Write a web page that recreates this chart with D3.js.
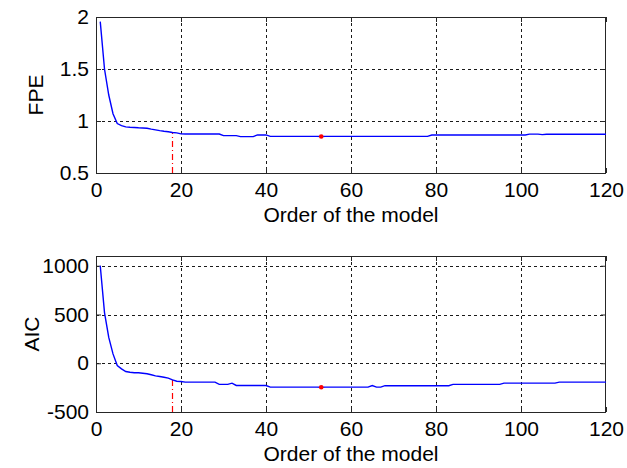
<!DOCTYPE html>
<html>
<head>
<meta charset="utf-8">
<script src="https://cdn.jsdelivr.net/npm/d3@7"></script>
<style>
  html, body { margin: 0; padding: 0; background: #fff; }
  svg { display: block; }
  text { font-family: "Liberation Sans", Arial, Helvetica, sans-serif; fill: #000; }
</style>
</head>
<body>
<svg id="chart" width="627" height="468"></svg>
<script>
// Model order (x) shared by both criteria
const orders = d3.range(1, 121);

// Final prediction error for each model order
const fpe = [
  1.955, 1.50, 1.25, 1.07, 0.975, 0.955, 0.944, 0.940, 0.938, 0.935,
  0.933, 0.930, 0.922, 0.915, 0.908, 0.902, 0.897, 0.890, 0.886, 0.876,
  0.875, 0.875, 0.875, 0.875, 0.875, 0.875, 0.875, 0.875, 0.875, 0.859,
  0.859, 0.859, 0.859, 0.850, 0.850, 0.850, 0.850, 0.866, 0.866, 0.866,
  0.852, 0.852, 0.852, 0.852, 0.852, 0.852, 0.852, 0.852, 0.852, 0.852,
  0.852, 0.852, 0.851, 0.852, 0.852, 0.852, 0.852, 0.852, 0.852, 0.852,
  0.852, 0.852, 0.852, 0.852, 0.852, 0.852, 0.852, 0.852, 0.852, 0.852,
  0.852, 0.852, 0.852, 0.852, 0.852, 0.852, 0.852, 0.852, 0.865, 0.865,
  0.865, 0.865, 0.865, 0.865, 0.865, 0.865, 0.865, 0.865, 0.865, 0.865,
  0.865, 0.865, 0.865, 0.865, 0.865, 0.865, 0.865, 0.865, 0.865, 0.865,
  0.865, 0.874, 0.874, 0.874, 0.869, 0.873, 0.873, 0.873, 0.873, 0.873,
  0.873, 0.873, 0.873, 0.873, 0.873, 0.873, 0.873, 0.873, 0.873, 0.873
];

// Akaike information criterion for each model order
const aic = [
  1000, 520, 265, 96, -23, -57, -85, -92, -98, -98,
  -102, -108, -118, -129, -136, -143, -153, -170, -184, -187,
  -194, -194, -194, -194, -194, -194, -194, -194, -217, -217,
  -217, -204, -228, -228, -228, -228, -228, -228, -228, -228,
  -245, -245, -245, -245, -245, -245, -245, -245, -245, -245,
  -245, -245, -246, -245, -245, -245, -245, -245, -245, -245,
  -245, -245, -245, -245, -228, -245, -245, -230, -230, -230,
  -230, -230, -230, -230, -230, -230, -230, -230, -230, -230,
  -230, -230, -230, -217, -217, -217, -217, -217, -217, -217,
  -217, -217, -217, -217, -217, -204, -204, -204, -204, -204,
  -204, -204, -204, -204, -204, -204, -204, -204, -194, -194,
  -194, -194, -194, -194, -194, -194, -194, -194, -194, -194
];

const xTicks = [0, 20, 40, 60, 80, 100, 120];
const fpeTicks = [0.5, 1, 1.5, 2];
const aicTicks = [-500, 0, 500, 1000];
const fpeDomain = [0.5, 2];
const aicDomain = [-500, 1100];

const selectedOrder = 18;   // order marked by the dash-dot line
const minOrder = 53;        // order marked by the dot

const svg = d3.select("#chart");
const left = 96, right = 606;
const FONT = 21;
const plain = d => String(d);   // "-500", "1.5", "1000"

function panel(values, yDomain, yTicks, yLabel, top, bottom, labelX) {
  const x = d3.scaleLinear().domain([0, 120]).range([left, right]);
  const y = d3.scaleLinear().domain(yDomain).range([bottom, top]);
  const g = svg.append("g");

  // dotted grid
  const grid = g.append("g").attr("stroke", "#1a1a1a").attr("stroke-width", 1)
    .attr("stroke-dasharray", "3,3").attr("fill", "none");
  xTicks.filter(t => t > 0 && t < 120).forEach(t => {
    grid.append("line").attr("x1", Math.round(x(t)) + 0.5).attr("x2", Math.round(x(t)) + 0.5)
      .attr("y1", top).attr("y2", bottom);
  });
  yTicks.filter(t => t > yDomain[0] && t < yDomain[1]).forEach(t => {
    grid.append("line").attr("y1", Math.round(y(t)) + 0.5).attr("y2", Math.round(y(t)) + 0.5)
      .attr("x1", left).attr("x2", right);
  });

  // axes with inward ticks
  const xa = g.append("g").attr("transform", `translate(0,${bottom})`)
    .call(d3.axisBottom(x).tickValues(xTicks).tickFormat(plain).tickSizeInner(-5).tickSizeOuter(0).tickPadding(9));
  const xt = g.append("g").attr("transform", `translate(0,${top})`)
    .call(d3.axisTop(x).tickValues(xTicks).tickSizeInner(-5).tickSizeOuter(0).tickFormat(""));
  const ya = g.append("g").attr("transform", `translate(${left},0)`)
    .call(d3.axisLeft(y).tickValues(yTicks).tickFormat(plain).tickSizeInner(-5).tickSizeOuter(0).tickPadding(7));
  const yr = g.append("g").attr("transform", `translate(${right},0)`)
    .call(d3.axisRight(y).tickValues(yTicks).tickSizeInner(-5).tickSizeOuter(0).tickFormat(""));
  [xa, xt, ya, yr].forEach(a => {
    a.select(".domain").remove();
    a.selectAll("line").attr("stroke", "#262626");
    a.selectAll("text").attr("font-size", FONT).attr("font-family", "Liberation Sans, Arial, sans-serif").attr("fill", "#000");
  });

  // box
  g.append("rect").attr("x", left + 0.5).attr("y", top + 0.5)
    .attr("width", right - left - 1).attr("height", bottom - top)
    .attr("fill", "none").attr("stroke", "#262626").attr("stroke-width", 1);

  // dash-dot marker at the selected order
  g.append("line")
    .attr("x1", x(selectedOrder)).attr("x2", x(selectedOrder))
    .attr("y1", y(yDomain[0])).attr("y2", y(values[selectedOrder - 1]))
    .attr("stroke", "#ff0000").attr("stroke-width", 1.2).attr("stroke-dasharray", "6,3,1,3");

  // criterion curve
  g.append("path").datum(values)
    .attr("fill", "none").attr("stroke", "#0000ff").attr("stroke-width", 1.4)
    .attr("d", d3.line().x((d, i) => x(orders[i])).y(d => y(d)));

  // minimum marker
  g.append("circle").attr("cx", x(minOrder)).attr("cy", y(values[minOrder - 1]))
    .attr("r", 2.3).attr("fill", "#ff0000");

  // titles
  g.append("text").attr("x", (left + right) / 2).attr("y", bottom + 49)
    .attr("text-anchor", "middle").attr("font-size", FONT).text("Order of the model");
  g.append("text").attr("transform", `translate(${labelX},${(top + bottom) / 2}) rotate(-90)`)
    .attr("text-anchor", "middle").attr("font-size", FONT).text(yLabel);
}

panel(fpe, fpeDomain, fpeTicks, "FPE", 17, 173, 43);
panel(aic, aicDomain, aicTicks, "AIC", 256, 412, 39);
</script>
</body>
</html>
